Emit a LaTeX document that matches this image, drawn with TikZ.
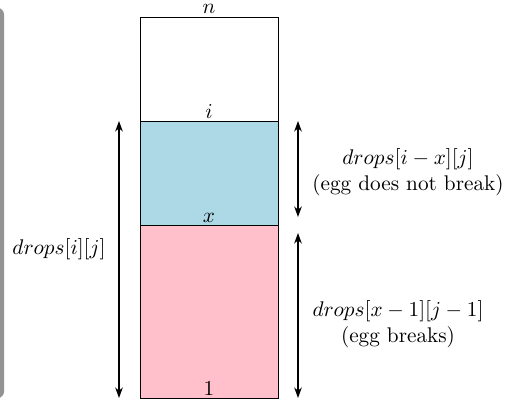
\documentclass[tikz,border=0pt]{standalone}
\usetikzlibrary{arrows.meta}
\definecolor{floorblue}{RGB}{173,216,230}
\definecolor{floorpink}{RGB}{255,192,203}
\begin{document}
\begin{tikzpicture}[x=0.471pt,y=-0.471pt,
  dimarrow/.style={{Stealth[length=5pt,width=3.6pt]}-{Stealth[length=5pt,width=3.6pt]}, line width=0.6pt},
  lbl/.style={inner sep=0pt, anchor=base},
  box/.style={draw=black, line width=0.4pt}]
\useasboundingbox (0,0) rectangle (519,405);
\fill[gray!85, rounded corners=3] (-6,8) -- (4,8) -- (4,398) -- (-6,398) -- cycle;
% floors
\coordinate (tl) at (140,17);
\coordinate (tr) at (278,17);
\coordinate (il) at (140,121);
\coordinate (ir) at (278,121);
\coordinate (xl) at (140,225);
\coordinate (xr) at (278,225);
\coordinate (bl) at (140,398);
\coordinate (br) at (278,398);
\draw[box, fill=white] (tl) rectangle (ir);
\draw[box, fill=floorblue] (il) rectangle (xr);
\draw[box, fill=floorpink] (xl) rectangle (br);
% floor labels
\node[lbl] (ln) at (209,14) {$n$};
\node[lbl] (li) at (209,118) {$i$};
\node[lbl] (lx) at (209,222) {$x$};
\node[lbl] (l1) at (209,395) {$1$};
% arrows
\coordinate (a1t) at (119,121);
\coordinate (a1b) at (119,398);
\coordinate (a2t) at (298,121);
\coordinate (a2b) at (298,217);
\coordinate (a3t) at (298,233);
\coordinate (a3b) at (298,398);
\draw[dimarrow] (a1t) -- (a1b);
\draw[dimarrow] (a2t) -- (a2b);
\draw[dimarrow] (a3t) -- (a3b);
% texts
\node (tall) at (59,249) {$drops[i][j]$};
\node[align=center] (upper) at (408,172) {$drops[i-x][j]$\\(egg does not break)};
\node[align=center] (lower) at (398,324) {$drops[x-1][j-1]$\\(egg breaks)};
\end{tikzpicture}
\end{document}
